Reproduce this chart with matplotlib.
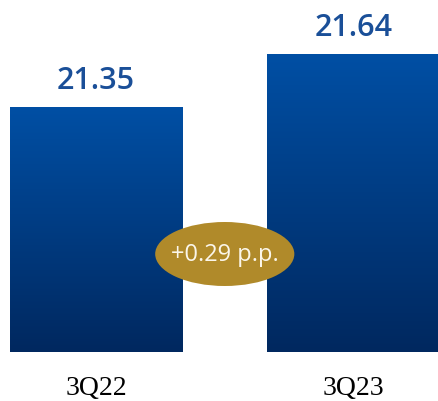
import numpy as np
import matplotlib
matplotlib.use("Agg")
import matplotlib.pyplot as plt
from matplotlib.patches import Ellipse
from matplotlib.colors import LinearSegmentedColormap

categories = ["3Q22", "3Q23"]
values = [21.35, 21.64]
value_labels = ["21.35", "21.64"]

base = 20.01
W, H = 439, 402
fig = plt.figure(figsize=(W / 100, H / 100), dpi=100)
ax = fig.add_axes([0, 49 / H, 1, 353 / H])
ax.axis("off")

x = np.arange(len(categories))
bw = 0.672
bars = ax.bar(x, [v - base for v in values], bottom=base, width=bw, color="none", edgecolor="none")

cmap = LinearSegmentedColormap.from_list("g", ["#00285f", "#004fa4"])
grad = np.linspace(0, 1, 256).reshape(-1, 1)
for b in bars:
    x0, y0 = b.get_x(), b.get_y()
    im = ax.imshow(grad, cmap=cmap, origin="lower", aspect="auto",
                   extent=[x0, x0 + b.get_width(), y0, y0 + b.get_height()], zorder=2)
    im.set_clip_path(b)
ax.set_xlim(-96 / 257, 1 + (439 - 353.5) / 257)
ax.set_ylim(base, base + 353 / 182.76)

for xi, v, lab in zip(x, values, value_labels):
    ax.annotate(lab, xy=(xi, v), xytext=(0, 14), textcoords="offset points",
                ha="center", va="baseline", fontsize=22, color="#1a4f98",
                family="Open Sans", fontweight="semibold")

for xi, c in zip(x, categories):
    ax.annotate(c, xy=(xi, base), xytext=(0, -30.2), textcoords="offset points",
                ha="center", va="baseline", fontsize=20, color="#000000",
                family="Liberation Serif", annotation_clip=False)

ex = (x[0] + x[1]) / 2
ey = base + (353 - 255) / 182.76
ell = Ellipse((ex, ey), width=139 / 257, height=64 / 182.76, facecolor="#b08a2a",
              edgecolor="none", zorder=5)
ax.add_patch(ell)
delta = values[1] - values[0]
ax.text(ex, ey, f"+{delta:.2f} p.p.", ha="center", va="center", fontsize=17,
        color="#fbf6ea", family="Open Sans", zorder=6)

fig.savefig("out.png", dpi=100)
